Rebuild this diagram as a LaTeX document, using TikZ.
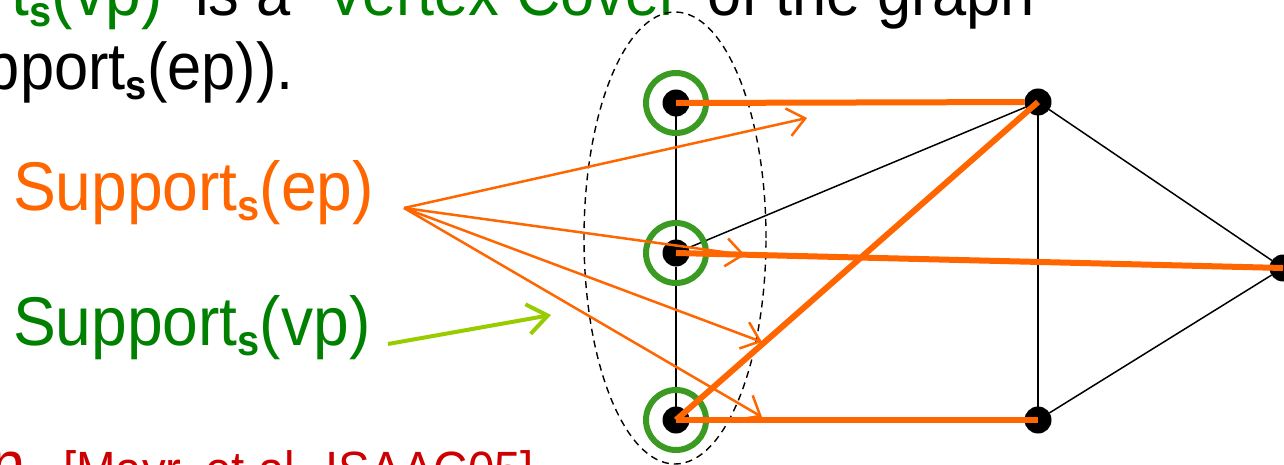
\documentclass[tikz,border=0pt]{standalone}
\usepackage{fontspec}
\setmainfont{Liberation Sans}[FakeStretch=0.93]
\usetikzlibrary{arrows.meta,shapes.geometric}
\definecolor{orng}{HTML}{FF6600}
\definecolor{dkgreen}{HTML}{008000}
\definecolor{ringgreen}{HTML}{3A9A22}
\definecolor{limeg}{HTML}{99CC00}
\definecolor{dkred}{HTML}{CC0000}
\newcommand\subs[1]{\raisebox{-0.15em}{\fontsize{0.62em}{0.62em}\selectfont\bfseries #1}}
\begin{document}
\begin{tikzpicture}[x=1pt,y=-1pt,
  txt/.style={inner sep=0pt, outer sep=0pt, anchor=base west, font=\fontsize{66}{79}\selectfont},
  lbl/.style={inner sep=0pt, outer sep=0pt, anchor=base west, font=\fontsize{69}{82}\selectfont},
  thinedge/.style={line width=1.5pt, black},
  thickedge/.style={line width=6pt, orng},
  ptr/.style={line width=2.5pt, orng, -{Straight Barb[length=17pt, width=28pt]}},
  vptr/.style={line width=4pt, limeg, -{Straight Barb[length=20pt, width=30pt]}},
  dot/.style={circle, fill=black, minimum size=27pt, inner sep=0pt, outer sep=0pt},
  ring/.style={circle, draw=ringgreen, line width=6pt, minimum size=60pt, inner sep=0pt},
  grp/.style={ellipse, draw, dashed, dash pattern=on 7pt off 5pt, line width=1.4pt, minimum width=182pt, minimum height=452pt, inner sep=0pt}
]
\useasboundingbox (0,0) rectangle (1284,465);
\clip (0,0) rectangle (1284,465);

% top text
\node[txt, dkgreen, font=\fontsize{69}{79}\selectfont] (l1a) at (12,16) {t\subs{s}(vp)};
\node[txt] (l1b) at (195,16) {is a};
\node[txt, dkgreen] (l1c) at (325,16) {Vertex Cover};
\node[txt] (l1d) at (707,16) {of the graph};
\node[txt] (l2) at (-14,90) {pport\subs{s}(ep)).};

% labels
\node[lbl, orng] (sep) at (13,210) {Support\subs{s}(ep)};
\node[lbl, dkgreen] (svp) at (13,345) {Support\subs{s}(vp)};

% bottom text
\node[txt, dkred] (bn) at (-9,487) {n};
\node[txt, dkred, font=\fontsize{51}{60}\selectfont] (cite) at (63,487) {[Mayr, et al. ISAAC05]};

% group ellipse
\node[grp] (g) at (675,238) {};

% vertices
\node[dot] (a) at (676,103) {};
\node[dot] (b) at (676,253) {};
\node[dot] (c) at (676,420) {};
\node[dot] (d) at (1038,102) {};
\node[dot] (e) at (1038,420) {};
\node[dot] (f) at (1283,268) {};

% thin edges
\draw[thinedge] (a) -- (b);
\draw[thinedge] (b) -- (c);
\draw[thinedge] (b) -- (d);
\draw[thinedge] (d) -- (e);
\draw[thinedge] (d) -- (f);
\draw[thinedge] (e) -- (f);

% rings
\node[ring] (ra) at (a) {};
\node[ring] (rb) at (b) {};
\node[ring] (rc) at (c) {};

% thick orange edges
\draw[thickedge] (a.center) -- (d);
\draw[thickedge] (b.center) -- (f.center);
\draw[thickedge] (c.center) -- (d.center);
\draw[thickedge] (c.center) -- (e.center);

% pointers
\coordinate (ep) at (404,208);
\coordinate (t1) at (807,118);
\coordinate (t2) at (745,255);
\coordinate (t3) at (762,342);
\coordinate (t4) at (762,417);
\draw[ptr] (ep) -- (t1);
\draw[ptr] (ep) -- (t2);
\draw[ptr] (ep) -- (t3);
\draw[ptr] (ep) -- (t4);

\coordinate (vs) at (388,344);
\coordinate (vt) at (551,315);
\draw[vptr] (vs) -- (vt);
\end{tikzpicture}
\end{document}
